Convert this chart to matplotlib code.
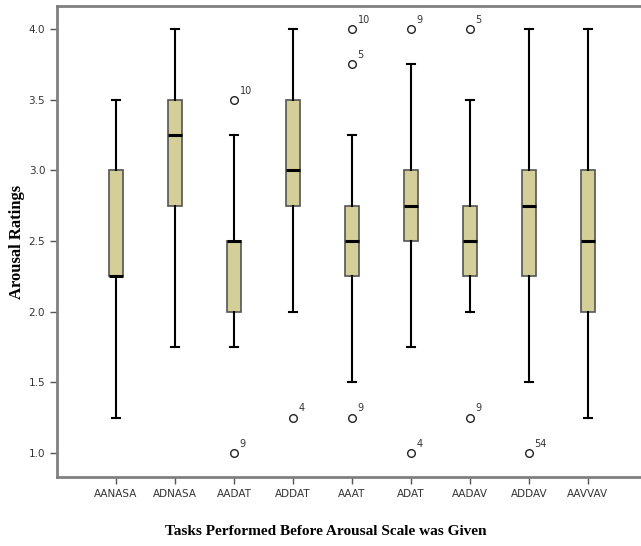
import matplotlib
matplotlib.use("Agg")
import matplotlib.pyplot as plt

# Boxplot-Kennwerte
tasks = ["AANASA", "ADNASA", "AADAT", "ADDAT", "AAAT", "ADAT", "AADAV", "ADDAV", "AAVVAV"]
whislo = [1.25, 1.75, 1.75, 2.0, 1.5, 1.75, 2.0, 1.5, 1.25]
q1 = [2.25, 2.75, 2.0, 2.75, 2.25, 2.5, 2.25, 2.25, 2.0]
med = [2.25, 3.25, 2.5, 3.0, 2.5, 2.75, 2.5, 2.75, 2.5]
q3 = [3.0, 3.5, 2.5, 3.5, 2.75, 3.0, 2.75, 3.0, 3.0]
whishi = [3.5, 4.0, 3.25, 4.0, 3.25, 3.75, 3.5, 4.0, 4.0]

# Ausreisser: (Task-Index, Wert, Fallnummer)
outliers = [
    (2, 3.5, "10"), (2, 1.0, "9"),
    (3, 1.25, "4"),
    (4, 4.0, "10"), (4, 3.75, "5"), (4, 1.25, "9"),
    (5, 4.0, "9"), (5, 1.0, "4"),
    (6, 4.0, "5"), (6, 1.25, "9"),
    (7, 1.0, "54"),
]

stats = []
for i, name in enumerate(tasks):
    fl = [v for (j, v, _) in outliers if j == i]
    stats.append(dict(label=name, whislo=whislo[i], q1=q1[i], med=med[i],
                      q3=q3[i], whishi=whishi[i], fliers=fl))

fig = plt.figure(figsize=(6.41, 5.46), dpi=100)
ax = fig.add_axes([0.0889, 0.1264, 0.9111, 0.8626])

ax.bxp(stats, positions=range(len(tasks)), widths=0.24, patch_artist=True,
       boxprops=dict(facecolor="#d4cf98", edgecolor="#555555", linewidth=1.2),
       medianprops=dict(color="black", linewidth=2.2),
       whiskerprops=dict(color="black", linewidth=1.5),
       capprops=dict(color="black", linewidth=1.5),
       capwidths=0.13,
       flierprops=dict(marker="o", markerfacecolor="white", markeredgecolor="#222222",
                       markersize=5.5, markeredgewidth=1.0))

for j, v, lab in outliers:
    ax.annotate(lab, (j, v), xytext=(4, 3), textcoords="offset points",
                fontsize=7, color="#333333", ha="left", va="bottom")

ax.set_xlim(-1, 8.9)
ax.set_ylim(0.83, 4.163)
ax.set_yticks([1.0, 1.5, 2.0, 2.5, 3.0, 3.5, 4.0])
ax.set_yticklabels(["1.0", "1.5", "2.0", "2.5", "3.0", "3.5", "4.0"])
ax.set_xticks(range(len(tasks)))
ax.set_xticklabels(tasks)
ax.tick_params(axis="both", direction="out", length=5, width=1, color="#555555",
               labelsize=7.5, labelcolor="#333333")

for side in ["left", "top", "bottom"]:
    ax.spines[side].set_color("#808080")
    ax.spines[side].set_linewidth(2)
ax.spines["right"].set_visible(False)

ax.set_ylabel("Arousal Ratings", family="Liberation Serif", fontweight="bold",
              fontsize=12)
ax.yaxis.set_label_coords(-0.055, 0.5)
ax.set_xlabel("Tasks Performed Before Arousal Scale was Given", family="Liberation Serif",
              fontweight="bold", fontsize=11)
ax.xaxis.set_label_coords(0.461, -0.102)

fig.savefig("out.png", dpi=100)
